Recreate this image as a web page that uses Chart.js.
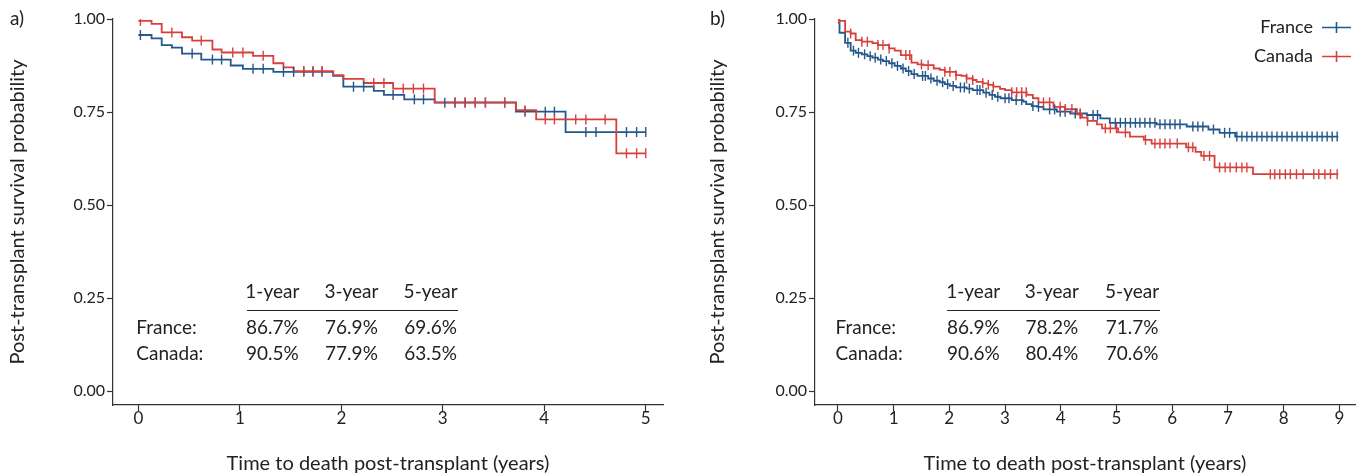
<!DOCTYPE html>
<html>
<head>
<meta charset="utf-8">
<script src="https://cdn.jsdelivr.net/npm/chart.js@4.4.1/dist/chart.umd.min.js"></script>
<style>
  html, body { margin: 0; padding: 0; background: #fff; }
  #wrap { position: relative; width: 1371px; height: 476px; }
  .panel { position: absolute; top: 0; height: 476px; }
  #pa { left: 0; width: 700px; }
  #pb { left: 700px; width: 671px; }
</style>
</head>
<body>
<div id="wrap">
  <div class="panel" id="pa"><canvas id="chartA"></canvas></div>
  <div class="panel" id="pb"><canvas id="chartB"></canvas></div>
</div>
<script>
// ---- panel a: 5-year follow-up ----
const aFranceTime = [0, 0.13, 0.23, 0.33, 0.43, 0.62, 0.91, 1.03, 1.33, 1.92, 2.02, 2.32, 2.42, 2.62, 2.92, 3.72, 4.21, 5.0];
const aFranceSurv = [0.957, 0.948, 0.930, 0.923, 0.907, 0.891, 0.875, 0.866, 0.858, 0.847, 0.818, 0.807, 0.796, 0.784, 0.775, 0.751, 0.696, 0.696];
const aFranceCens = [0.02, 0.53, 0.73, 0.82, 1.13, 1.23, 1.43, 1.53, 1.63, 1.72, 1.81, 2.12, 2.22, 2.51, 2.72, 2.81, 3.02, 3.12, 3.22, 3.32, 3.42, 3.61, 3.81, 4.01, 4.10, 4.41, 4.51, 4.81, 4.91, 5.0];

const aCanadaTime = [0, 0.13, 0.23, 0.43, 0.53, 0.73, 0.82, 1.13, 1.33, 1.43, 1.53, 1.92, 2.02, 2.22, 2.51, 2.92, 3.72, 3.92, 4.71, 5.0];
const aCanadaSurv = [0.995, 0.987, 0.964, 0.951, 0.942, 0.918, 0.910, 0.901, 0.881, 0.870, 0.860, 0.849, 0.839, 0.828, 0.813, 0.776, 0.755, 0.730, 0.639, 0.639];
const aCanadaCens = [0.02, 0.33, 0.62, 0.93, 1.03, 1.23, 1.63, 1.72, 1.81, 2.32, 2.42, 2.61, 2.71, 2.81, 3.12, 3.22, 3.32, 3.42, 3.61, 3.81, 4.01, 4.10, 4.31, 4.41, 4.60, 4.81, 4.91, 5.0];

// ---- panel b: 9-year follow-up ----
const bFranceTime = [0, 0.03, 0.13, 0.23, 0.32, 0.43, 0.53, 0.62, 0.72, 0.81, 0.92, 1.02, 1.13, 1.22, 1.32, 1.43, 1.62, 1.72, 1.83, 1.92, 2.01, 2.12, 2.31, 2.42, 2.61, 2.72, 2.82, 2.92, 3.12, 3.33, 3.38, 3.48, 3.58, 3.69, 3.93, 4.17, 4.47, 4.71, 4.88, 5.72, 6.26, 6.65, 6.85, 7.13, 8.98];
const bFranceSurv = [0.99, 0.963, 0.936, 0.915, 0.909, 0.905, 0.900, 0.896, 0.891, 0.887, 0.881, 0.874, 0.867, 0.860, 0.852, 0.847, 0.840, 0.834, 0.830, 0.825, 0.820, 0.816, 0.813, 0.809, 0.802, 0.796, 0.791, 0.787, 0.782, 0.778, 0.771, 0.766, 0.764, 0.757, 0.751, 0.746, 0.742, 0.733, 0.721, 0.717, 0.711, 0.703, 0.694, 0.684, 0.684];
const bFranceCens = [0.18, 0.28, 0.37, 0.48, 0.58, 0.67, 0.77, 0.87, 0.97, 1.07, 1.17, 1.27, 1.37, 1.52, 1.57, 1.67, 1.78, 1.88, 1.97, 2.07, 2.20, 2.27, 2.36, 2.50, 2.55, 2.66, 2.77, 2.87, 3.00, 3.07, 3.20, 3.30, 3.50, 3.60, 3.80, 3.89, 3.99, 4.08, 4.26, 4.35, 4.58, 4.66, 4.98, 5.07, 5.16, 5.25, 5.34, 5.42, 5.51, 5.60, 5.69, 5.78, 5.87, 5.96, 6.05, 6.14, 6.37, 6.46, 6.55, 6.74, 6.94, 7.03, 7.16, 7.25, 7.34, 7.43, 7.52, 7.61, 7.70, 7.79, 7.88, 7.97, 8.06, 8.15, 8.24, 8.33, 8.42, 8.51, 8.60, 8.69, 8.78, 8.87, 8.96];

const bCanadaTime = [0, 0.03, 0.13, 0.23, 0.32, 0.43, 0.62, 0.72, 0.92, 1.02, 1.13, 1.32, 1.43, 1.53, 1.72, 1.83, 1.92, 2.12, 2.22, 2.31, 2.42, 2.49, 2.60, 2.70, 2.79, 2.91, 3.00, 3.12, 3.39, 3.50, 3.60, 3.87, 4.08, 4.29, 4.38, 4.48, 4.65, 4.74, 5.03, 5.24, 5.49, 5.63, 6.25, 6.42, 6.52, 6.76, 7.45, 8.98];
const bCanadaSurv = [1.0, 0.995, 0.966, 0.961, 0.943, 0.939, 0.935, 0.930, 0.921, 0.915, 0.903, 0.883, 0.878, 0.876, 0.867, 0.863, 0.858, 0.849, 0.847, 0.840, 0.836, 0.831, 0.827, 0.823, 0.818, 0.812, 0.809, 0.803, 0.796, 0.787, 0.776, 0.764, 0.758, 0.744, 0.735, 0.726, 0.717, 0.706, 0.695, 0.684, 0.675, 0.665, 0.655, 0.643, 0.632, 0.601, 0.583, 0.583];
const bCanadaCens = [0.02, 0.23, 0.43, 0.53, 0.72, 0.81, 0.92, 1.22, 1.29, 1.50, 1.62, 1.92, 2.01, 2.12, 2.31, 2.42, 2.60, 2.70, 2.79, 3.12, 3.21, 3.30, 3.38, 3.69, 3.80, 3.99, 4.08, 4.20, 4.35, 4.48, 4.80, 4.89, 5.00, 5.16, 5.52, 5.69, 5.78, 5.87, 5.96, 6.09, 6.29, 6.37, 6.57, 6.67, 6.85, 6.95, 7.04, 7.15, 7.25, 7.34, 7.76, 7.84, 7.93, 8.03, 8.12, 8.23, 8.35, 8.54, 8.63, 8.74, 8.84, 8.96];

const yTicks = [0, 0.25, 0.5, 0.75, 1.0];
const aXTicks = [0, 1, 2, 3, 4, 5];
const bXTicks = [0, 1, 2, 3, 4, 5, 6, 7, 8, 9];

const tableHeader = ['1-year', '3-year', '5-year'];
const rowLabels = ['France:', 'Canada:'];
const aFranceRates = ['86.7%', '76.9%', '69.6%'];
const aCanadaRates = ['90.5%', '77.9%', '63.5%'];
const bFranceRates = ['86.9%', '78.2%', '71.7%'];
const bCanadaRates = ['90.6%', '80.4%', '70.6%'];
const seriesNames = ['France', 'Canada'];

const BLUE = '#24588c';
const RED = '#d8403f';
const AXIS = '#333333';
const TEXT = '#222222';
const FONT = 'Lato, "Noto Sans", sans-serif';

// survival level at time t
function levelAt(times, surv, t) {
  let v = surv[0];
  for (let i = 0; i < times.length; i++) {
    if (times[i] <= t + 1e-9) v = surv[i];
  }
  return v;
}

function stepData(times, surv) {
  return times.map((t, i) => ({ x: t, y: surv[i] }));
}

function censData(cens, times, surv) {
  return cens.map(t => ({ x: t, y: levelAt(times, surv, t) }));
}

function curve(times, surv, color) {
  return {
    data: stepData(times, surv),
    showLine: true,
    stepped: 'before',
    borderColor: color,
    borderWidth: 1.8,
    pointRadius: 0,
    order: 2
  };
}

function marks(cens, times, surv, color) {
  return {
    data: censData(cens, times, surv),
    showLine: false,
    pointStyle: 'line',
    rotation: 90,
    pointRadius: 5,
    pointHoverRadius: 5,
    borderColor: color,
    borderWidth: 1.4,
    order: 1
  };
}

// text table + panel letter (+ legend on b)
const extras = {
  id: 'extras',
  afterDraw(chart) {
    const o = chart.options.plugins.extras;
    const ctx = chart.ctx;
    const xs = chart.scales.x, ys = chart.scales.y;
    ctx.save();
    ctx.fillStyle = TEXT;
    ctx.font = '19px ' + FONT;
    ctx.textBaseline = 'middle';
    ctx.textAlign = 'left';
    ctx.fillText(o.letter, 10, 19);

    const t = o.table;
    ctx.textAlign = 'center';
    tableHeader.forEach((h, i) => ctx.fillText(h, xs.getPixelForValue(t.cols[i]), ys.getPixelForValue(0.266)));
    ctx.strokeStyle = TEXT;
    ctx.lineWidth = 1;
    const ry = Math.round(ys.getPixelForValue(0.218)) + 0.5;
    ctx.beginPath();
    ctx.moveTo(xs.getPixelForValue(t.ruleFrom), ry);
    ctx.lineTo(xs.getPixelForValue(t.ruleTo), ry);
    ctx.stroke();
    const rows = [t.france, t.canada];
    const rowY = [0.169, 0.099];
    rows.forEach((r, j) => {
      const y = ys.getPixelForValue(rowY[j]);
      ctx.textAlign = 'left';
      ctx.fillText(rowLabels[j], xs.getPixelForValue(t.labelX), y);
      ctx.textAlign = 'center';
      r.forEach((s, i) => ctx.fillText(s, xs.getPixelForValue(t.cols[i]), y));
    });

    if (o.legend) {
      ctx.font = '18px ' + FONT;
      ctx.textAlign = 'right';
      [BLUE, RED].forEach((c, i) => {
        const y = 27 + i * 29;
        ctx.fillStyle = TEXT;
        ctx.fillText(seriesNames[i], 613, y);
        ctx.strokeStyle = c;
        ctx.lineWidth = 1.6;
        ctx.beginPath();
        ctx.moveTo(622, y + 0.5);
        ctx.lineTo(651, y + 0.5);
        ctx.moveTo(636.5, y - 5);
        ctx.lineTo(636.5, y + 6);
        ctx.stroke();
      });
    }
    ctx.restore();
  }
};

function makeChart(id, cfg) {
  return new Chart(document.getElementById(id), {
    type: 'scatter',
    data: { datasets: cfg.datasets },
    options: {
      responsive: true,
      maintainAspectRatio: false,
      animation: false,
      layout: { padding: { left: 0, top: 19, right: cfg.padRight, bottom: 0 } },
      plugins: {
        legend: { display: false },
        tooltip: { enabled: false },
        extras: cfg.extras
      },
      scales: {
        x: {
          type: 'linear',
          min: cfg.xmin,
          max: cfg.xmax,
          afterBuildTicks: s => { s.ticks = cfg.xticks.map(v => ({ value: v })); },
          afterFit: s => { s.height = 71; },
          ticks: { color: TEXT, font: { family: FONT, size: 17 }, padding: -3, maxRotation: 0 },
          grid: { display: true, drawOnChartArea: false, drawTicks: true, tickLength: 6, color: AXIS, tickWidth: 1.2 },
          border: { display: true, color: AXIS, width: 1.2 },
          title: { display: true, text: 'Time to death post-transplant (years)', color: TEXT, font: { family: FONT, size: 20 }, padding: { top: 0, bottom: 0 } }
        },
        y: {
          type: 'linear',
          min: -0.0376,
          max: 1.0,
          afterBuildTicks: s => { s.ticks = yTicks.map(v => ({ value: v })); },
          afterFit: s => { s.width = cfg.yWidth; },
          ticks: { color: TEXT, font: { family: FONT, size: 16 }, padding: 2, callback: v => v.toFixed(2) },
          grid: { display: true, drawOnChartArea: false, drawTicks: true, tickLength: 6, color: AXIS, tickWidth: 1.2 },
          border: { display: true, color: AXIS, width: 1.2 },
          title: { display: true, text: 'Post-transplant survival probability', color: TEXT, font: { family: FONT, size: 20 }, padding: { top: 6, bottom: 0 } }
        }
      }
    },
    plugins: [extras]
  });
}

makeChart('chartA', {
  xmin: -0.25, xmax: 5.17, xticks: aXTicks, yWidth: 113, padRight: 37,
  datasets: [
    curve(aCanadaTime, aCanadaSurv, RED),
    curve(aFranceTime, aFranceSurv, BLUE),
    marks(aCanadaCens, aCanadaTime, aCanadaSurv, RED),
    marks(aFranceCens, aFranceTime, aFranceSurv, BLUE)
  ],
  extras: {
    letter: 'a)', legend: false,
    table: { cols: [1.32, 2.10, 2.88], ruleFrom: 1.07, ruleTo: 3.15, labelX: -0.02, france: aFranceRates, canada: aCanadaRates }
  }
});

makeChart('chartB', {
  xmin: -0.41, xmax: 9.28, xticks: bXTicks, yWidth: 115, padRight: 16,
  datasets: [
    curve(bCanadaTime, bCanadaSurv, RED),
    curve(bFranceTime, bFranceSurv, BLUE),
    marks(bCanadaCens, bCanadaTime, bCanadaSurv, RED),
    marks(bFranceCens, bFranceTime, bFranceSurv, BLUE)
  ],
  extras: {
    letter: 'b)', legend: true,
    table: { cols: [2.43, 3.84, 5.28], ruleFrom: 1.96, ruleTo: 5.78, labelX: -0.04, france: bFranceRates, canada: bCanadaRates }
  }
});
</script>
</body>
</html>
